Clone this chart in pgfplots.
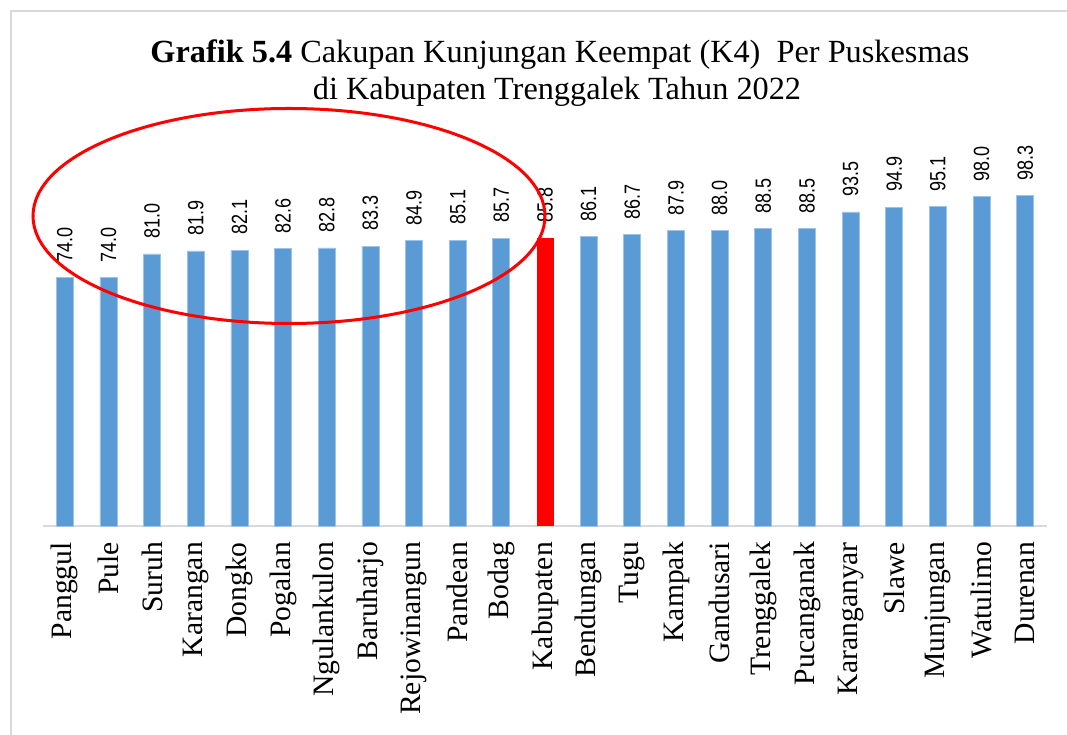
\documentclass[border=0pt]{standalone}
\usepackage{pgfplots}
\pgfplotsset{compat=1.18}
\usepackage{fontspec}
\setmainfont{Liberation Serif}
\newfontfamily\lsans[FakeStretch=0.82]{Liberation Sans}
\definecolor{barblue}{RGB}{91,155,213}
\definecolor{baredge}{RGB}{157,195,230}
\definecolor{axgray}{RGB}{217,217,217}
\begin{document}
\begin{tikzpicture}[x=1bp,y=1bp]
\path[use as bounding box] (0,0) rectangle (1067,735);
\draw[axgray, line width=1.5bp] (11,-20) -- (11,724) -- (1090,724);
\node[anchor=base, font=\fontsize{32.3bp}{37bp}\selectfont] at (560,672) {\textbf{Grafik 5.4} Cakupan Kunjungan Keempat (K4)\ \ Per Puskesmas};
\node[anchor=base, font=\fontsize{32.3bp}{37bp}\selectfont] at (557,635) {di Kabupaten Trenggalek Tahun 2022};
\begin{axis}[
  at={(43bp,209bp)}, anchor=south west,
  scale only axis, width=1004bp, height=403bp,
  xmin=-0.5, xmax=22.5, ymin=0, ymax=120,
  ybar, bar width=17bp, bar shift=0pt,
  axis y line=none, axis x line*=bottom,
  x axis line style={-, draw=axgray, line width=2bp},
  xtick={0,...,22}, major tick length=0pt, ytick=\empty,
  xticklabels={Panggul,Pule,Suruh,Karangan,Dongko,Pogalan,Ngulankulon,Baruharjo,Rejowinangun,Pandean,Bodag,Kabupaten,Bendungan,Tugu,Kampak,Gandusari,Trenggalek,Pucanganak,Karanganyar,Slawe,Munjungan,Watulimo,Durenan},
  xticklabel style={rotate=90, anchor=east, inner sep=0pt, font=\fontsize{29.6bp}{32bp}\selectfont},
  xticklabel shift=16bp,
  clip=false,
  nodes near coords={\pgfmathprintnumber[fixed,fixed zerofill,precision=1,assume math mode=true]{\pgfplotspointmeta}},
  every node near coord/.append style={rotate=90, anchor=west, inner xsep=15bp, inner ysep=0pt, font=\lsans\fontsize{22bp}{24bp}\selectfont, text=black},
]
\addplot[fill=barblue, draw=baredge, line width=0.75bp] coordinates {
(0,74.0) (1,74.0) (2,81.0) (3,81.9) (4,82.1) (5,82.6) (6,82.8) (7,83.3) (8,84.9) (9,85.1) (10,85.7)
(12,86.1) (13,86.7) (14,87.9) (15,88.0) (16,88.5) (17,88.5) (18,93.5) (19,94.9) (20,95.1) (21,98.0) (22,98.3)};
\addplot[fill=red, draw=none] coordinates {(11,85.8)};
\end{axis}
\draw[red, line width=3bp] (289,519) ellipse [x radius=256, y radius=107.5];
\end{tikzpicture}
\end{document}
